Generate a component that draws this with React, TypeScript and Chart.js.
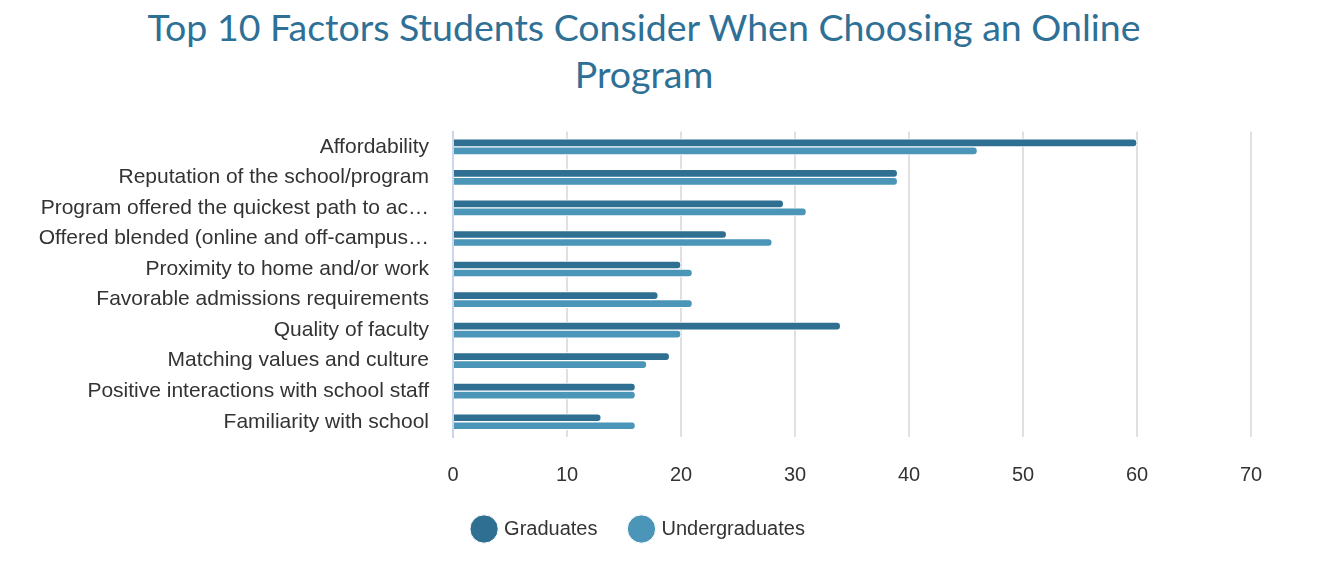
import { useEffect, useRef } from 'react';
import { Chart, registerables } from 'chart.js';

Chart.register(...registerables);

const categories = [
    'Affordability',
    'Reputation of the school/program',
    'Program offered the quickest path to ac…',
    'Offered blended (online and off-campus…',
    'Proximity to home and/or work',
    'Favorable admissions requirements',
    'Quality of faculty',
    'Matching values and culture',
    'Positive interactions with school staff',
    'Familiarity with school',
];
const graduates = [60, 39, 29, 24, 20, 18, 34, 19, 16, 13];
const undergraduates = [46, 39, 31, 28, 21, 21, 20, 17, 16, 16];

const DARK = '#2f6f92';
const LIGHT = '#4a95b8';
const FONT = '"Liberation Sans", Arial, sans-serif';

export default function App() {
    const chartRef = useRef<HTMLCanvasElement>(null);
    const chartInstance = useRef<Chart | null>(null);

    useEffect(() => {
        if (!chartRef.current) return;
        chartInstance.current?.destroy();
        const ctx = chartRef.current.getContext('2d');
        if (!ctx) return;

        chartInstance.current = new Chart(ctx, {
            type: 'bar',
            data: {
                labels: categories,
                datasets: [
                    {
                        label: 'Graduates',
                        data: graduates,
                        backgroundColor: DARK,
                        borderColor: '#ffffff',
                        borderWidth: 1,
                        borderRadius: 4,
                        borderSkipped: 'start',
                        barThickness: 8,
                    },
                    {
                        label: 'Undergraduates',
                        data: undergraduates,
                        backgroundColor: LIGHT,
                        borderColor: '#ffffff',
                        borderWidth: 1,
                        borderRadius: 4,
                        borderSkipped: 'start',
                        barThickness: 8,
                    },
                ],
            },
            options: {
                indexAxis: 'y',
                animation: false,
                responsive: true,
                maintainAspectRatio: false,
                datasets: {
                    bar: {
                        categoryPercentage: 0.52,
                    },
                },
                layout: {
                    padding: { top: 21, left: 20, right: 87, bottom: 18 },
                },
                plugins: {
                    legend: {
                        position: 'bottom',
                        labels: {
                            usePointStyle: true,
                            pointStyle: 'circle',
                            boxWidth: 20,
                            boxHeight: 20,
                            padding: 34,
                            color: '#333333',
                            font: { family: FONT, size: 20 },
                        },
                    },
                    tooltip: { enabled: false },
                },
                scales: {
                    x: {
                        min: 0,
                        max: 70,
                        // chart.js reserves the tick padding twice; drop the spare one
                        afterFit: (scale: any) => {
                            scale.height = scale.height - 28;
                        },
                        ticks: {
                            stepSize: 10,
                            color: '#333333',
                            padding: 28,
                            font: { family: FONT, size: 20, lineHeight: 1 },
                        },
                        grid: {
                            color: '#e0e0e0',
                            lineWidth: 2,
                            drawTicks: false,
                        },
                        border: { display: false },
                    },
                    y: {
                        afterFit: (scale: any) => {
                            scale.width = 425;
                        },
                        ticks: {
                            color: '#333333',
                            padding: 24,
                            font: { family: FONT, size: 21 },
                        },
                        grid: { display: false, drawTicks: false },
                        border: { color: '#ccd6eb', width: 2 },
                    },
                },
            },
        });

        return () => {
            chartInstance.current?.destroy();
        };
    }, []);

    return (
        <div style={{ width: 1330, height: 564, position: 'relative' }}>
            <div
                style={{
                    width: 1272,
                    textAlign: 'center',
                    color: '#2e7096',
                    fontFamily: 'Lato, sans-serif',
                    fontSize: 37.5,
                    lineHeight: '47px',
                    marginTop: -5,
                }}
            >
                Top 10 Factors Students Consider When Choosing an Online
                <br />
                Program
            </div>
            <div style={{ position: 'absolute', left: 0, top: 92, width: 1330, height: 472 }}>
                <canvas ref={chartRef} />
            </div>
        </div>
    );
}
